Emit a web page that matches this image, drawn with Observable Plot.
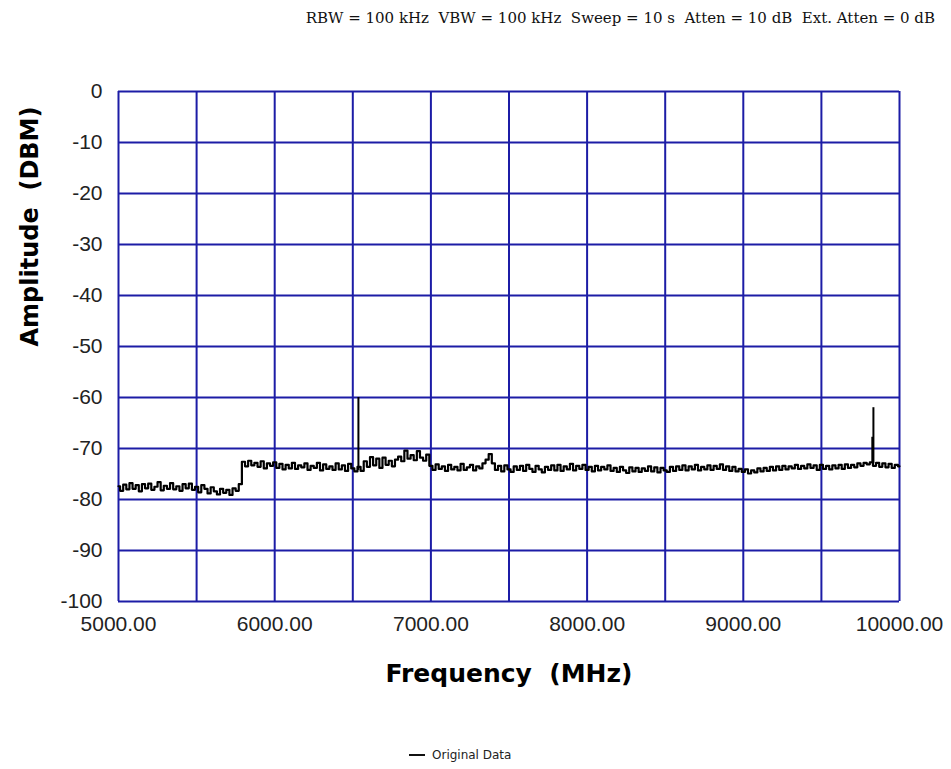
<!DOCTYPE html>
<html>
<head>
<meta charset="utf-8">
<script src="https://cdn.jsdelivr.net/npm/d3@7"></script>
<script src="https://cdn.jsdelivr.net/npm/@observablehq/plot@0.6"></script>
<style>
  html, body { margin: 0; padding: 0; background: #fff; }
  #wrap { width: 951px; height: 769px; position: relative; overflow: hidden; }
  #header { height: 40px; line-height: 36px; text-align: right; padding-right: 16px; box-sizing: border-box;
            font-family: "DejaVu Serif", "Liberation Serif", serif; font-size: 15px; color: #111; white-space: pre; }
  #legend { height: 69px; position: relative; font-family: "DejaVu Sans", sans-serif; font-size: 12px; color: #222; }
  #legend .item { position: absolute; left: 409px; top: 48px; display: flex; align-items: center; gap: 7px; }
  #legend .swatch { width: 16px; height: 2px; background: #111; }
</style>
</head>
<body>
<div id="wrap">
  <div id="header"></div>
  <div id="chart"></div>
  <div id="legend"><div class="item"><span class="swatch"></span><span id="legendText"></span></div></div>
</div>
<script>
// ---- Data ----
const headerText = "RBW = 100 kHz  VBW = 100 kHz  Sweep = 10 s  Atten = 10 dB  Ext. Atten = 0 dB";
const xAxisLabel = "Frequency  (MHz)";
const yAxisLabel = "Amplitude  (DBM)";
const seriesName = "Original Data";

// sweep: start 5000 MHz, 20 MHz per point, 251 points (noise floor)
const sweepStart = 5000;
const sweepStep = 20;
const amplitude = [
  -77.4,-78.3,-77.1,-78.0,-76.8,-77.9,-77.2,-78.4,-77.0,-77.8,
  -76.9,-78.1,-77.5,-76.6,-78.2,-77.3,-77.9,-76.8,-78.0,-77.4,
  -78.3,-77.0,-77.8,-76.9,-78.1,-77.5,-78.6,-77.2,-77.9,-78.8,
  -77.6,-78.4,-79.0,-77.9,-78.7,-78.1,-79.1,-77.8,-78.3,-77.0,
  -72.6,-73.5,-72.4,-73.3,-72.8,-73.6,-72.5,-73.9,-72.9,-73.4,
  -72.7,-73.8,-73.0,-74.1,-73.2,-73.9,-72.8,-74.0,-73.3,-73.7,
  -72.9,-74.2,-73.4,-73.8,-72.8,-74.3,-73.1,-74.0,-73.5,-74.2,
  -72.9,-74.1,-73.3,-74.4,-73.0,-73.9,-74.5,
  -73.6,
  -74.4,
  -72.5,-73.6,-71.7,-73.3,-72.0,-73.8,-71.8,-73.2,-72.4,-73.5,-72.2,
  -71.6,-72.5,-70.4,-72.0,-71.3,-72.3,-70.5,-71.8,-72.4,-71.2,
  -73.4,-74.2,-73.1,-74.0,-73.5,-74.4,-73.2,-74.1,-73.6,-74.3,
  -73.0,-74.2,-73.7,-73.2,-74.3,-73.5,-73.9,-72.9,-72.2,-71.1,
  -72.9,-74.2,-73.4,-74.5,-73.3,-74.1,-74.6,-73.5,-74.2,-73.4,
  -74.4,-73.2,-74.0,-74.6,-73.4,-74.1,-74.7,-73.6,-74.2,-73.3,
  -74.3,-73.2,-74.4,-73.5,-74.1,-73.0,-74.3,-73.4,-74.0,-73.2,
  -74.2,-73.6,-74.5,-73.4,-74.3,-73.6,-74.1,-73.3,-74.4,-73.8,
  -74.6,-73.6,-74.3,-74.8,-73.7,-74.5,-73.8,-74.6,-73.9,-74.4,
  -73.5,-74.5,-73.7,-74.7,-73.8,-74.3,-74.6,-73.6,-74.4,-73.5,
  -74.2,-73.3,-74.3,-73.5,-74.1,-73.2,-74.3,-73.6,-74.1,-73.3,
  -74.2,-73.4,-74.0,-73.1,-74.2,-73.5,-74.4,-73.6,-74.5,-74.0,
  -74.6,-74.1,-74.9,-74.3,-74.7,-73.9,-74.5,-73.8,-74.4,-73.6,
  -74.3,-73.5,-74.2,-73.4,-74.1,-73.5,-73.9,-73.2,-74.0,-73.4,
  -73.9,-73.1,-73.8,-73.3,-74.2,-73.2,-74.0,-73.4,-74.1,-73.3,
  -73.9,-73.2,-74.0,-73.1,-73.8,-73.2,-73.7,-72.9,-73.4,-72.8,-73.1,
  -72.7,
  -73.4,
  -72.8,-73.6,-72.9,-73.7,-73.0,-73.8,-73.2,-73.5
];
// narrow spurs
const peakFreq = [6536, 9826, 9833];
const peakBase = [-74.3, -73.0, -73.0];
const peakTop  = [-60.0, -67.8, -62.0];

const xTicks = [5000, 6000, 7000, 8000, 9000, 10000];
const xGrid = [5000, 5500, 6000, 6500, 7000, 7500, 8000, 8500, 9000, 9500, 10000];
const yTicks = [0, -10, -20, -30, -40, -50, -60, -70, -80, -90, -100];

const trace = amplitude.map((a, i) => ({freq: sweepStart + i * sweepStep, amp: a}));
const peaks = peakFreq.map((f, i) => ({freq: f, base: peakBase[i], top: peakTop[i]}));

document.getElementById("header").textContent = headerText;
document.getElementById("legendText").textContent = seriesName;

const gridColor = "#1c1ca6";
const labelFont = "'DejaVu Sans', Verdana, sans-serif";

const chart = Plot.plot({
  width: 951,
  height: 660,
  marginLeft: 118,
  marginRight: 52,
  marginTop: 51,
  marginBottom: 99,
  style: {fontFamily: "'Liberation Sans', Arial, sans-serif", fontSize: "21px", color: "#222", background: "#fff"},
  x: {domain: [5000, 10000]},
  y: {domain: [-100, 0]},
  marks: [
    Plot.ruleX(xGrid, {stroke: gridColor, strokeWidth: 2}),
    Plot.ruleY(yTicks, {stroke: gridColor, strokeWidth: 2}),
    Plot.axisX(xTicks, {tickSize: 0, tickPadding: 15, tickFormat: d => d.toFixed(2), label: null, fill: "#222"}),
    Plot.axisY(yTicks, {tickSize: 0, tickPadding: 16, tickFormat: d => String(d), label: null, fill: "#222"}),
    Plot.line(trace, {x: "freq", y: "amp", curve: "step", stroke: "#000", strokeWidth: 2.2}),
    Plot.ruleX(peaks, {x: "freq", y1: "base", y2: "top", stroke: "#000", strokeWidth: 2}),
    Plot.text([xAxisLabel], {frameAnchor: "bottom", dy: 72, lineAnchor: "middle", fontSize: 25, fontWeight: "bold", fontFamily: labelFont, fill: "#000"}),
    Plot.text([yAxisLabel], {frameAnchor: "left", dx: -88, rotate: -90, lineAnchor: "middle", fontSize: 24, fontWeight: "bold", fontFamily: labelFont, fill: "#000"})
  ]
});
document.getElementById("chart").appendChild(chart);
</script>
</body>
</html>
